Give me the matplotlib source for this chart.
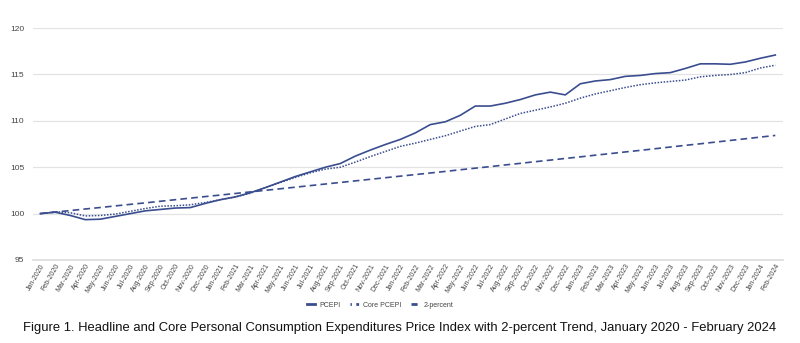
import matplotlib
matplotlib.use("Agg")
import matplotlib.pyplot as plt
from matplotlib.lines import Line2D

months = ["Jan", "Feb", "Mar", "Apr", "May", "Jun", "Jul", "Aug", "Sep", "Oct", "Nov", "Dec"]
labels = [f"{m}-{y}" for y in range(2020, 2025) for m in months][:50]

pcepi = [100.0, 100.15, 99.8, 99.35, 99.4, 99.7, 100.0, 100.3, 100.45, 100.6, 100.65, 101.1,
         101.5, 101.8, 102.25, 102.8, 103.4, 104.0, 104.5, 105.0, 105.4, 106.2, 106.85, 107.45,
         108.0, 108.7, 109.6, 109.9, 110.6, 111.6, 111.6, 111.9, 112.3, 112.8, 113.1, 112.8,
         114.0, 114.3, 114.45, 114.8, 114.9, 115.1, 115.2, 115.65, 116.15, 116.15, 116.1, 116.35,
         116.75, 117.1]
core = [100.0, 100.2, 100.1, 99.75, 99.8, 99.95, 100.25, 100.55, 100.8, 100.85, 100.95, 101.2,
        101.5, 101.8, 102.2, 102.8, 103.35, 103.9, 104.4, 104.8, 105.0, 105.55, 106.15, 106.7,
        107.25, 107.6, 108.0, 108.4, 108.9, 109.4, 109.6, 110.2, 110.8, 111.15, 111.5, 111.9,
        112.45, 112.9, 113.25, 113.6, 113.9, 114.1, 114.25, 114.4, 114.75, 114.9, 115.0, 115.2,
        115.7, 116.0]
trend = [100.00, 100.17, 100.33, 100.50, 100.66, 100.83, 101.00, 101.16, 101.33, 101.50, 101.67, 101.84,
         102.00, 102.17, 102.34, 102.51, 102.68, 102.85, 103.02, 103.19, 103.36, 103.53, 103.70, 103.87,
         104.04, 104.21, 104.38, 104.55, 104.73, 104.90, 105.07, 105.25, 105.42, 105.60, 105.77, 105.95,
         106.12, 106.30, 106.47, 106.65, 106.82, 107.00, 107.18, 107.36, 107.53, 107.71, 107.89, 108.07,
         108.25, 108.43]
yticks = [95, 100, 105, 110, 115, 120]
series_names = ["PCEPI", "Core PCEPI", "2-percent"]

color = "#3a4d8f"
plt.rcParams["font.family"] = ["Liberation Sans", "DejaVu Sans"]

fig = plt.figure(figsize=(8, 3.43), dpi=100)
ax = fig.add_axes([0.041, 0.242, 0.9375, 0.676])
x = list(range(len(labels)))
ax.plot(x, pcepi, color=color, lw=1.2)
ax.plot(x, core, color=color, lw=1.1, linestyle=(0, (1, 1)))
ax.plot(x, trend, color=color, lw=1.2, linestyle=(0, (4, 2.5)))

ax.set_xlim(-0.5, len(labels) - 0.5)
ax.set_ylim(95, 120)
ax.set_yticks(yticks)
ax.set_xticks(x)
ax.set_xticklabels(labels, rotation=60, ha="right", rotation_mode="anchor", fontsize=5, color="#444444")
ax.tick_params(axis="y", labelsize=6, colors="#444444", length=0, pad=6)
ax.tick_params(axis="x", length=0, pad=2)
for s in ax.spines.values():
    s.set_visible(False)
ax.grid(axis="y", color="#e3e3e3", lw=0.9)
ax.axhline(95, color="#dcdcdc", lw=1.2, clip_on=False, zorder=0)
ax.set_axisbelow(True)

handles = [
    Line2D([], [], color=color, lw=2.0),
    Line2D([], [], color=color, lw=2.0, linestyle=(0.5, (1, 1.6))),
    Line2D([], [], color=color, lw=2.0, linestyle=(0, (2.2, 1.4))),
]
ax.legend(handles, series_names, loc="center", bbox_to_anchor=(0.463, -0.195), ncol=3, frameon=False,
          fontsize=5, handlelength=1.2, handletextpad=0.6, columnspacing=1.4, labelcolor="#444444")

fig.text(0.5, 1 - 328 / 343,
         "Figure 1. Headline and Core Personal Consumption Expenditures Price Index with 2-percent Trend, January 2020 - February 2024",
         ha="center", va="center", fontsize=9.4, color="#111111")

fig.savefig("out.png", dpi=100)
